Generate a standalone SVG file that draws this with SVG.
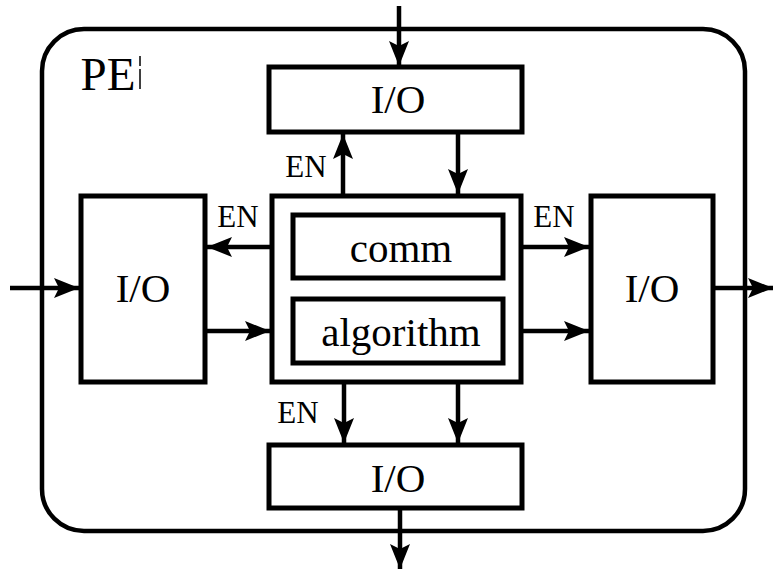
<svg xmlns="http://www.w3.org/2000/svg" width="774" height="572" viewBox="0 0 774 572">
<style>
.box{fill:#fff;stroke:#000;stroke-width:5}
.in{fill:none;stroke:#000;stroke-width:5}
.t{font-family:"Liberation Serif","Times New Roman",serif;fill:#000;text-anchor:middle}
.io{font-size:41px}
.en{font-size:31px}
.w{fill:none;stroke:#000;stroke-width:4.5}
</style>
<defs>
<marker id="ah" markerUnits="userSpaceOnUse" markerWidth="30" markerHeight="24" viewBox="-27 -12 30 24" refX="0" refY="0" orient="auto">
<path d="M0,0 L-25,-10 L-20,0 L-25,10 Z" fill="#000"/>
</marker>
</defs>
<rect id="pe" x="42" y="29" width="703" height="502" rx="42" ry="42" fill="none" stroke="#000" stroke-width="4.5"/>
<g id="pe-label">
<text class="t" x="108" y="90" font-size="47">PE</text>
<line x1="140" y1="56" x2="140" y2="90" stroke="#000" stroke-width="1.5" stroke-dasharray="10,3,20"/>
</g>
<g id="io-top"><rect class="box" x="269" y="67" width="253" height="65"/><text class="t io" x="398" y="113">I/O</text></g>
<g id="io-left"><rect class="box" x="81" y="196" width="124" height="186"/><text class="t io" x="143" y="302">I/O</text></g>
<g id="io-right"><rect class="box" x="591" y="196" width="122" height="186"/><text class="t io" x="652" y="302">I/O</text></g>
<g id="io-bottom"><rect class="box" x="269" y="445" width="253" height="63"/><text class="t io" x="398" y="492">I/O</text></g>
<g id="core">
<rect class="box" x="272" y="196" width="249" height="186"/>
<g id="comm"><rect class="in" x="293" y="215" width="210" height="63"/><text class="t io" x="401" y="262">comm</text></g>
<g id="algorithm"><rect class="in" x="293" y="299" width="210" height="64"/><text class="t io" x="401" y="346">algorithm</text></g>
</g>
<g id="connectors">
<line class="w" x1="399" y1="6" x2="399" y2="66" marker-end="url(#ah)"/>
<line class="w" x1="343" y1="195" x2="343" y2="134" marker-end="url(#ah)"/>
<line class="w" x1="458" y1="133" x2="458" y2="194" marker-end="url(#ah)"/>
<line class="w" x1="271" y1="247" x2="207" y2="247" marker-end="url(#ah)"/>
<line class="w" x1="206" y1="331" x2="270" y2="331" marker-end="url(#ah)"/>
<line class="w" x1="522" y1="247" x2="589" y2="247" marker-end="url(#ah)"/>
<line class="w" x1="522" y1="331" x2="589" y2="331" marker-end="url(#ah)"/>
<line class="w" x1="10" y1="288" x2="79" y2="288" marker-end="url(#ah)"/>
<line class="w" x1="714" y1="288" x2="773" y2="288" marker-end="url(#ah)"/>
<line class="w" x1="344" y1="383" x2="344" y2="443" marker-end="url(#ah)"/>
<line class="w" x1="458" y1="383" x2="458" y2="443" marker-end="url(#ah)"/>
<line class="w" x1="400" y1="509" x2="400" y2="569" marker-end="url(#ah)"/>
<text class="t en" x="306" y="177">EN</text>
<text class="t en" x="238" y="227">EN</text>
<text class="t en" x="554" y="227">EN</text>
<text class="t en" x="298" y="423">EN</text>
</g>
</svg>
